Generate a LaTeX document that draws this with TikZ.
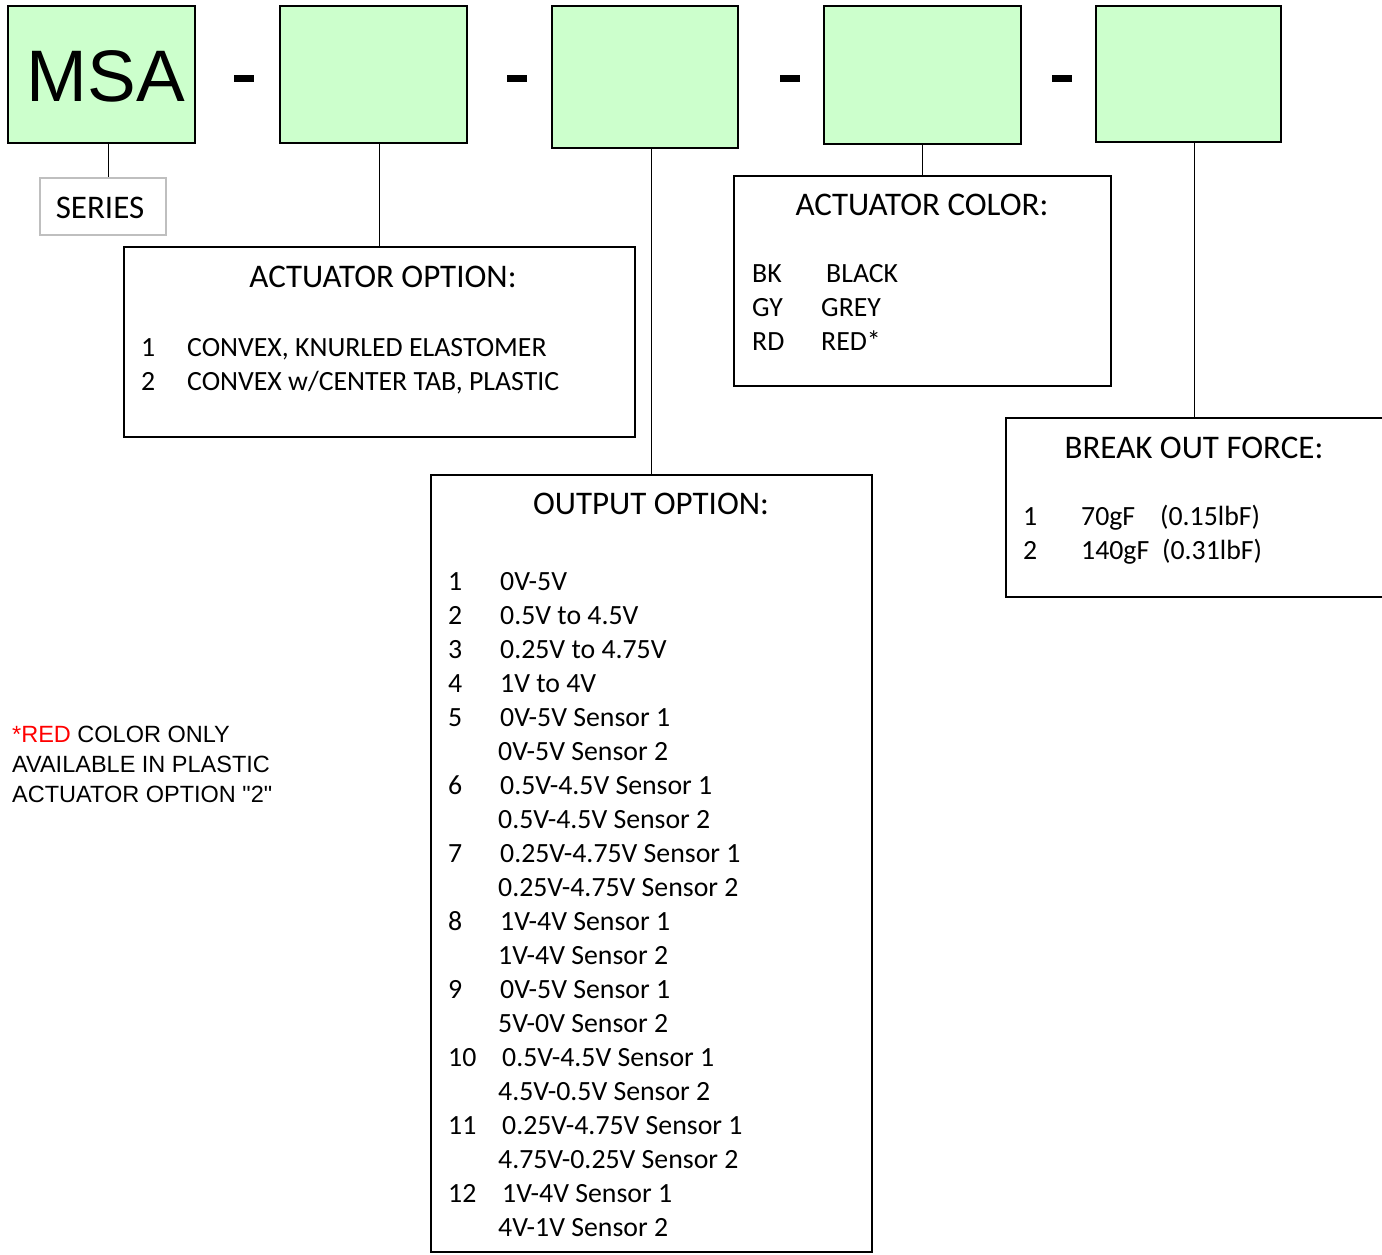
\documentclass[tikz,border=0pt]{standalone}
\usepackage{fontspec}
\setmainfont{Carlito}
\newfontfamily\arialf{Liberation Sans}
\definecolor{boxgreen}{HTML}{CCFFCC}
\definecolor{lightgrey}{HTML}{BFBFBF}
\definecolor{notered}{HTML}{FF0000}
\begin{document}
\begin{tikzpicture}[x=1pt,y=-1pt,
  greenbox/.style={draw=black, fill=boxgreen, line width=1.4pt, inner sep=0pt},
  infobox/.style={draw=black, line width=1.4pt, inner sep=0pt},
  seriesbox/.style={draw=lightgrey, line width=1.4pt, inner sep=0pt},
  conn/.style={draw=black, line width=1pt},
  dashbar/.style={fill=black, inner sep=0pt, minimum width=20pt, minimum height=7pt},
  hd/.style={font=\fontsize{33}{39}\selectfont, inner sep=0pt, anchor=base},
  lt/.style={font=\fontsize{27.8}{34}\selectfont, inner sep=0pt, anchor=base west},
  nt/.style={font=\arialf\fontsize{23.5}{30}\selectfont, inner sep=0pt, anchor=base west}]
\clip (0,0) rectangle (1382,1254);
\fill[white] (0,0) rectangle (1382,1254);

% top code boxes
\node[greenbox, minimum width=187pt, minimum height=137pt] (b1) at (101.5,74.5) {};
\node[font=\arialf\fontsize{73}{80}\selectfont, inner sep=0pt, anchor=base] (msa) at (106,101) {MSA};
\node[greenbox, minimum width=187pt, minimum height=137pt] (b2) at (373.5,74.5) {};
\node[greenbox, minimum width=186pt, minimum height=142pt] (b3) at (645,77) {};
\node[greenbox, minimum width=197pt, minimum height=138pt] (b4) at (922.5,75) {};
\node[greenbox, minimum width=185pt, minimum height=136pt] (b5) at (1188.5,74) {};

% dashes
\node[dashbar] (d1) at (244,78.5) {};
\node[dashbar] (d2) at (517,78.5) {};
\node[dashbar] (d3) at (790,78.5) {};
\node[dashbar] (d4) at (1062,78.5) {};

% series
\node[seriesbox, minimum width=126pt, minimum height=57pt] (series) at (103,206.5) {};
\node[hd] (seriest) at (100,218) {SERIES};

% actuator option
\node[infobox, minimum width=511pt, minimum height=190pt] (abox) at (379.5,342) {};
\node[hd] (atitle) at (383,287) {ACTUATOR OPTION:};
\node[lt] (a1n) at (141,356) {1};
\node[lt] (a1t) at (187,356) {CONVEX, KNURLED ELASTOMER};
\node[lt] (a2n) at (141,390) {2};
\node[lt] (a2t) at (187,390) {CONVEX w/CENTER TAB, PLASTIC};

% output option
\node[infobox, minimum width=441pt, minimum height=777pt] (obox) at (651.5,863.5) {};
\node[hd] (otitle) at (651,514) {OUTPUT OPTION:};
\node[lt] (o1n) at (448,590) {1};
\node[lt] (o1t) at (500,590) {0V-5V};
\node[lt] (o2n) at (448,624) {2};
\node[lt] (o2t) at (500,624) {0.5V to 4.5V};
\node[lt] (o3n) at (448,658) {3};
\node[lt] (o3t) at (500,658) {0.25V to 4.75V};
\node[lt] (o4n) at (448,692) {4};
\node[lt] (o4t) at (500,692) {1V to 4V};
\node[lt] (o5n) at (448,726) {5};
\node[lt] (o5t) at (500,726) {0V-5V Sensor 1};
\node[lt] (o5u) at (498,760) {0V-5V Sensor 2};
\node[lt] (o6n) at (448,794) {6};
\node[lt] (o6t) at (500,794) {0.5V-4.5V Sensor 1};
\node[lt] (o6u) at (498,828) {0.5V-4.5V Sensor 2};
\node[lt] (o7n) at (448,862) {7};
\node[lt] (o7t) at (500,862) {0.25V-4.75V Sensor 1};
\node[lt] (o7u) at (498,896) {0.25V-4.75V Sensor 2};
\node[lt] (o8n) at (448,930) {8};
\node[lt] (o8t) at (500,930) {1V-4V Sensor 1};
\node[lt] (o8u) at (498,964) {1V-4V Sensor 2};
\node[lt] (o9n) at (448,998) {9};
\node[lt] (o9t) at (500,998) {0V-5V Sensor 1};
\node[lt] (o9u) at (498,1032) {5V-0V Sensor 2};
\node[lt] (o10n) at (448,1066) {10};
\node[lt] (o10t) at (502,1066) {0.5V-4.5V Sensor 1};
\node[lt] (o10u) at (498,1100) {4.5V-0.5V Sensor 2};
\node[lt] (o11n) at (448,1134) {11};
\node[lt] (o11t) at (502,1134) {0.25V-4.75V Sensor 1};
\node[lt] (o11u) at (498,1168) {4.75V-0.25V Sensor 2};
\node[lt] (o12n) at (448,1202) {12};
\node[lt] (o12t) at (502,1202) {1V-4V Sensor 1};
\node[lt] (o12u) at (498,1236) {4V-1V Sensor 2};

% actuator color
\node[infobox, minimum width=377pt, minimum height=210pt] (cbox) at (922.5,281) {};
\node[hd] (ctitle) at (922,215) {ACTUATOR COLOR:};
\node[lt] (c1n) at (752,282) {BK};
\node[lt] (c1t) at (826,282) {BLACK};
\node[lt] (c2n) at (752,316) {GY};
\node[lt] (c2t) at (821,316) {GREY};
\node[lt] (c3n) at (752,350) {RD};
\node[lt] (c3t) at (821,350) {RED*};

% break out force
\node[infobox, minimum width=394pt, minimum height=179pt] (fbox) at (1203,507.5) {};
\coordinate (ftop) at (1194,418);
\node[hd] (ftitle) at (1194,458) {BREAK OUT FORCE:};
\node[lt] (f1n) at (1023,525) {1};
\node[lt] (f1a) at (1081,525) {70gF};
\node[lt] (f1b) at (1160,525) {(0.15lbF)};
\node[lt] (f2n) at (1023,559) {2};
\node[lt] (f2a) at (1081,559) {140gF};
\node[lt] (f2b) at (1162,559) {(0.31lbF)};

% note
\node[nt] (note1) at (12,742) {\textcolor{notered}{*RED} COLOR ONLY};
\node[nt] (note2) at (12,772) {AVAILABLE IN PLASTIC};
\node[nt] (note3) at (12,802) {ACTUATOR OPTION "2"};

% connectors
\coordinate (s1) at (108,143);
\draw[conn] (s1) -- (s1 |- series.north);
\draw[conn] (b2.south -| abox.north) -- (abox.north);
\draw[conn] (b3.south -| obox.north) -- (obox.north);
\draw[conn] (b4.south -| cbox.north) -- (cbox.north);
\draw[conn] (b5.south -| ftop) -- (ftop);
\end{tikzpicture}
\end{document}
